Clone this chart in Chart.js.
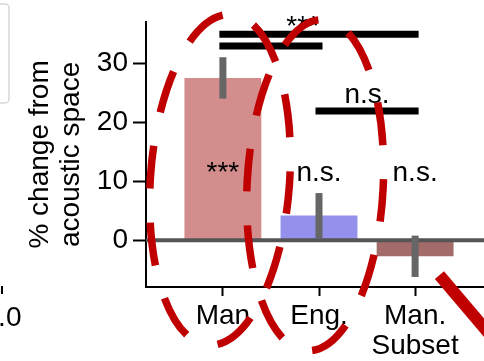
<!DOCTYPE html>
<html>
<head>
<meta charset="utf-8">
<script src="https://cdn.jsdelivr.net/npm/chart.js@4.4.1/dist/chart.umd.min.js"></script>
<style>
  html, body { margin: 0; padding: 0; background: #fff; overflow: hidden; width: 484px; height: 361px; }
  canvas { display: block; }
</style>
</head>
<body>
<canvas id="c" width="520" height="361"></canvas>
<script>
// Categories and measured change (%), with error half-widths
const categories = ['Man', 'Eng.', ['Man.', 'Subset']];
const categoryX = [0, 1, 2];
const changeValues = [27.5, 4.2, -2.7];
const errorValues = [3.5, 3.8, 3.5];
const barColors = ['#d48d8d', '#9391ec', '#a46b6b'];
const yTickValues = [0, 10, 20, 30];

// Significance of each bar against zero
const barMarks = ['***', 'n.s.', 'n.s.'];
const barMarkY = [10, 10, 10];

// Pairwise comparison brackets
const pairFrom = [0, 0, 1];
const pairTo = [2, 1, 2];
const pairY = [34.9, 32.9, 21.9];
const pairText = ['***', '', 'n.s.'];
const pairTextX = [0.83, 0.5, 1.5];
const pairTextY = [34.8, 33, 23.2];

// Highlight rings: centre and semi-axes in data units, tilt in radians
const ringCX = [-0.03, 0.96];
const ringCY = [10.25, 9.33];
const ringRX = [0.724, 0.708];
const ringRY = [28.07, 28.07];
const ringTilt = [0.07, 0.05];
const ringDashStart = [14, 10];

// Stroke entering from the lower right (data units)
const strokeFrom = [2.253, -5.88];
const strokeTo = [2.9, -18.3];

const FONT = "'Liberation Sans', Arial, Helvetica, sans-serif";

function ellipsePerimeter(a, b) {
  const h = Math.pow((a - b) / (a + b), 2);
  return Math.PI * (a + b) * (1 + 3 * h / (10 + Math.sqrt(4 - 3 * h)));
}

const overlay = {
  id: 'overlay',
  afterDatasetsDraw(chart) {
    const { ctx, chartArea: area, scales: { x, y } } = chart;
    ctx.save();

    // zero reference line
    const y0 = y.getPixelForValue(0);
    ctx.strokeStyle = '#555555';
    ctx.lineWidth = 4;
    ctx.beginPath();
    ctx.moveTo(area.left, y0);
    ctx.lineTo(area.right, y0);
    ctx.stroke();

    // error bars
    ctx.strokeStyle = '#666666';
    ctx.lineWidth = 7;
    ctx.lineCap = 'butt';
    changeValues.forEach((v, i) => {
      const px = x.getPixelForValue(categoryX[i]);
      ctx.beginPath();
      ctx.moveTo(px, y.getPixelForValue(v - errorValues[i]));
      ctx.lineTo(px, y.getPixelForValue(v + errorValues[i]));
      ctx.stroke();
    });

    // comparison brackets
    ctx.strokeStyle = '#000';
    ctx.lineWidth = 7;
    ctx.lineCap = 'square';
    pairY.forEach((v, i) => {
      const py = y.getPixelForValue(v);
      ctx.beginPath();
      ctx.moveTo(x.getPixelForValue(categoryX[pairFrom[i]]), py);
      ctx.lineTo(x.getPixelForValue(categoryX[pairTo[i]]), py);
      ctx.stroke();
    });

    // significance labels
    ctx.fillStyle = '#000';
    ctx.font = '28px ' + FONT;
    ctx.textAlign = 'center';
    ctx.textBaseline = 'alphabetic';
    pairText.forEach((t, i) => {
      if (t) ctx.fillText(t, x.getPixelForValue(pairTextX[i]), y.getPixelForValue(pairTextY[i]));
    });
    barMarks.forEach((t, i) => {
      ctx.fillText(t, x.getPixelForValue(categoryX[i]), y.getPixelForValue(barMarkY[i]));
    });

    // dashed highlight rings
    ctx.strokeStyle = '#c00000';
    ctx.lineWidth = 7.5;
    ctx.lineCap = 'butt';
    ringCX.forEach((cxv, i) => {
      const cx = x.getPixelForValue(cxv);
      const cy = y.getPixelForValue(ringCY[i]);
      const rx = x.getPixelForValue(cxv + ringRX[i]) - cx;
      const ry = cy - y.getPixelForValue(ringCY[i] + ringRY[i]);
      const period = ellipsePerimeter(rx, ry) / 10;
      ctx.setLineDash([period * 0.56, period * 0.44]);
      ctx.lineDashOffset = ringDashStart[i];
      ctx.beginPath();
      ctx.ellipse(cx, cy, rx, ry, ringTilt[i], 0, Math.PI * 2);
      ctx.stroke();
    });
    ctx.setLineDash([]);
    ctx.lineWidth = 12;
    ctx.beginPath();
    ctx.moveTo(x.getPixelForValue(strokeFrom[0]), y.getPixelForValue(strokeFrom[1]));
    ctx.lineTo(x.getPixelForValue(strokeTo[0]), y.getPixelForValue(strokeTo[1]));
    ctx.stroke();

    ctx.restore();
  },
  afterDraw(chart) {
    const { ctx } = chart;
    ctx.save();
    // edge of the neighbouring panel: legend frame and its x tick
    ctx.strokeStyle = '#d6d6d6';
    ctx.lineWidth = 1.5;
    ctx.beginPath();
    ctx.roundRect(-12, 4, 21, 99, 4);
    ctx.stroke();
    ctx.strokeStyle = '#000';
    ctx.lineWidth = 2;
    ctx.beginPath();
    ctx.moveTo(2, 286);
    ctx.lineTo(2, 294);
    ctx.stroke();
    ctx.fillStyle = '#000';
    ctx.font = '28px ' + FONT;
    ctx.textAlign = 'center';
    ctx.textBaseline = 'alphabetic';
    ctx.fillText('1.0', 2, 326);
    ctx.restore();
  }
};

new Chart(document.getElementById('c'), {
  type: 'bar',
  data: {
    datasets: [{
      data: categoryX.map((xv, i) => ({ x: xv, y: changeValues[i] })),
      backgroundColor: barColors,
      borderWidth: 0,
      barPercentage: 0.8,
      categoryPercentage: 1
    }]
  },
  options: {
    responsive: false,
    animation: false,
    devicePixelRatio: 1,
    layout: { padding: { left: 0, top: 20, right: 28, bottom: 0 } },
    plugins: { legend: { display: false }, tooltip: { enabled: false } },
    scales: {
      x: {
        type: 'linear',
        offset: false,
        min: -0.8,
        max: 2.8,
        afterBuildTicks: s => { s.ticks = categoryX.map(v => ({ value: v })); },
        afterFit: s => { s.height = 74; },
        ticks: {
          callback: v => categories[v],
          color: '#000',
          font: { family: FONT, size: 28, lineHeight: 1.08 },
          padding: 5,
          maxRotation: 0,
          autoSkip: false
        },
        grid: { drawOnChartArea: false, drawTicks: true, tickLength: 9, tickWidth: 2, color: '#000', offset: false },
        border: { display: true, color: '#000', width: 2 }
      },
      y: {
        min: -7.9,
        max: 37,
        afterBuildTicks: s => { s.ticks = yTickValues.map(v => ({ value: v })); },
        afterFit: s => { s.width = 146; },
        ticks: { color: '#000', font: { family: FONT, size: 28 }, padding: 5 },
        grid: { drawOnChartArea: false, drawTicks: true, tickLength: 13, tickWidth: 2, color: '#000' },
        border: { display: true, color: '#000', width: 2 },
        title: {
          display: true,
          text: ['% change from', 'acoustic space'],
          color: '#000',
          font: { family: FONT, size: 28, lineHeight: 1.1 },
          padding: { top: 25, bottom: 0 }
        }
      }
    }
  },
  plugins: [overlay]
});
</script>
</body>
</html>
